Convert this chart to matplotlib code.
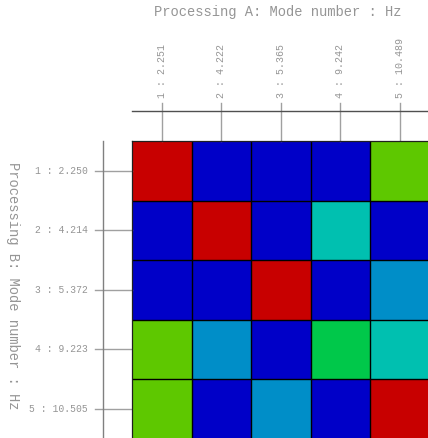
import numpy as np
import matplotlib
matplotlib.use("Agg")
import matplotlib.pyplot as plt
from matplotlib.colors import ListedColormap, BoundaryNorm
from matplotlib.transforms import blended_transform_factory

# Mode labels for the two processing runs
modes_a = ["1 : 2.251", "2 : 4.222", "3 : 5.365", "4 : 9.242", "5 : 10.489"]
modes_b = ["1 : 2.250", "2 : 4.214", "3 : 5.372", "4 : 9.223", "5 : 10.505"]

# MAC values: rows = processing B modes, columns = processing A modes
mac = np.array([
    [1.00, 0.05, 0.05, 0.05, 0.55],
    [0.05, 1.00, 0.05, 0.35, 0.05],
    [0.05, 0.05, 1.00, 0.05, 0.25],
    [0.55, 0.25, 0.05, 0.45, 0.35],
    [0.55, 0.05, 0.25, 0.05, 1.00],
])

level_colors = ["#0000c8", "#008ec8", "#00c0b0", "#00c84a",
                "#5ec800", "#c8c800", "#c86400", "#c80000"]
level_bounds = [0.0, 0.2, 0.3, 0.4, 0.5, 0.6, 0.7, 0.8, 1.01]

cmap = ListedColormap(level_colors)
norm = BoundaryNorm(level_bounds, cmap.N)

W, H = 428, 438
fig = plt.figure(figsize=(W / 100, H / 100), dpi=100)
cell = 59.5
left_px, top_px = 132, 141
ax = fig.add_axes([left_px / W, 1 - (top_px + 5 * cell) / H,
                   5 * cell / W, 5 * cell / H])

n = len(modes_a)
ax.pcolormesh(np.arange(n + 1), np.arange(n + 1), mac, cmap=cmap, norm=norm)
# cell borders drawn on top of all fills
edges = np.arange(1, n)
ax.vlines(edges, 0, n, colors="#000000", linewidth=1.0)
ax.hlines(edges, 0, n, colors="#000000", linewidth=1.0)
ax.set_xlim(0, n)
ax.set_ylim(n, 0)
ax.set_xticks([])
ax.set_yticks([])
for s in ax.spines.values():
    s.set_color("#202020")
    s.set_linewidth(0.9)

mono = ["Liberation Mono", "DejaVu Sans Mono"]
txt = "#959595"
px = 1.0 / (5 * cell)  # one pixel in axes fraction

# Column ticks and labels above the matrix
tx = blended_transform_factory(ax.transData, ax.transAxes)
centers = np.arange(n) + 0.5
for xc, lab in zip(centers, modes_a):
    ax.plot([xc, xc], [1.0, 1 + 38 * px], transform=tx, color="#a0a0a0",
            lw=1.0, clip_on=False)
    ax.text(xc, 1 + 43 * px, lab, transform=tx, rotation=90, ha="center",
            va="bottom", family=mono, fontsize=7.2, color=txt)
ax.plot([0, 1.05], [1 + 30 * px, 1 + 30 * px], transform=ax.transAxes,
        color="#505050", lw=1.0, clip_on=False)

# Row ticks and labels left of the matrix
ty = blended_transform_factory(ax.transAxes, ax.transData)
for yc, lab in zip(centers, modes_b):
    ax.plot([-37 * px, 0], [yc, yc], transform=ty, color="#a0a0a0",
            lw=1.0, clip_on=False)
    ax.text(-44 * px, yc, lab, transform=ty, ha="right", va="center",
            family=mono, fontsize=7.0, color=txt)
ax.plot([-29 * px, -29 * px], [-0.05, 1.0], transform=ax.transAxes,
        color="#808080", lw=1.0, clip_on=False)

ax.text(0.49, 1 + 129 * px, "Processing A: Mode number : Hz",
        transform=ax.transAxes, ha="center", va="center", family=mono,
        fontsize=9.9, color=txt)
ax.text(-119 * px, 1 - 145 * px, "Processing B: Mode number : Hz",
        transform=ax.transAxes, ha="center", va="center", rotation=-90,
        family=mono, fontsize=9.9, color=txt)

fig.savefig("out.png", dpi=100)
